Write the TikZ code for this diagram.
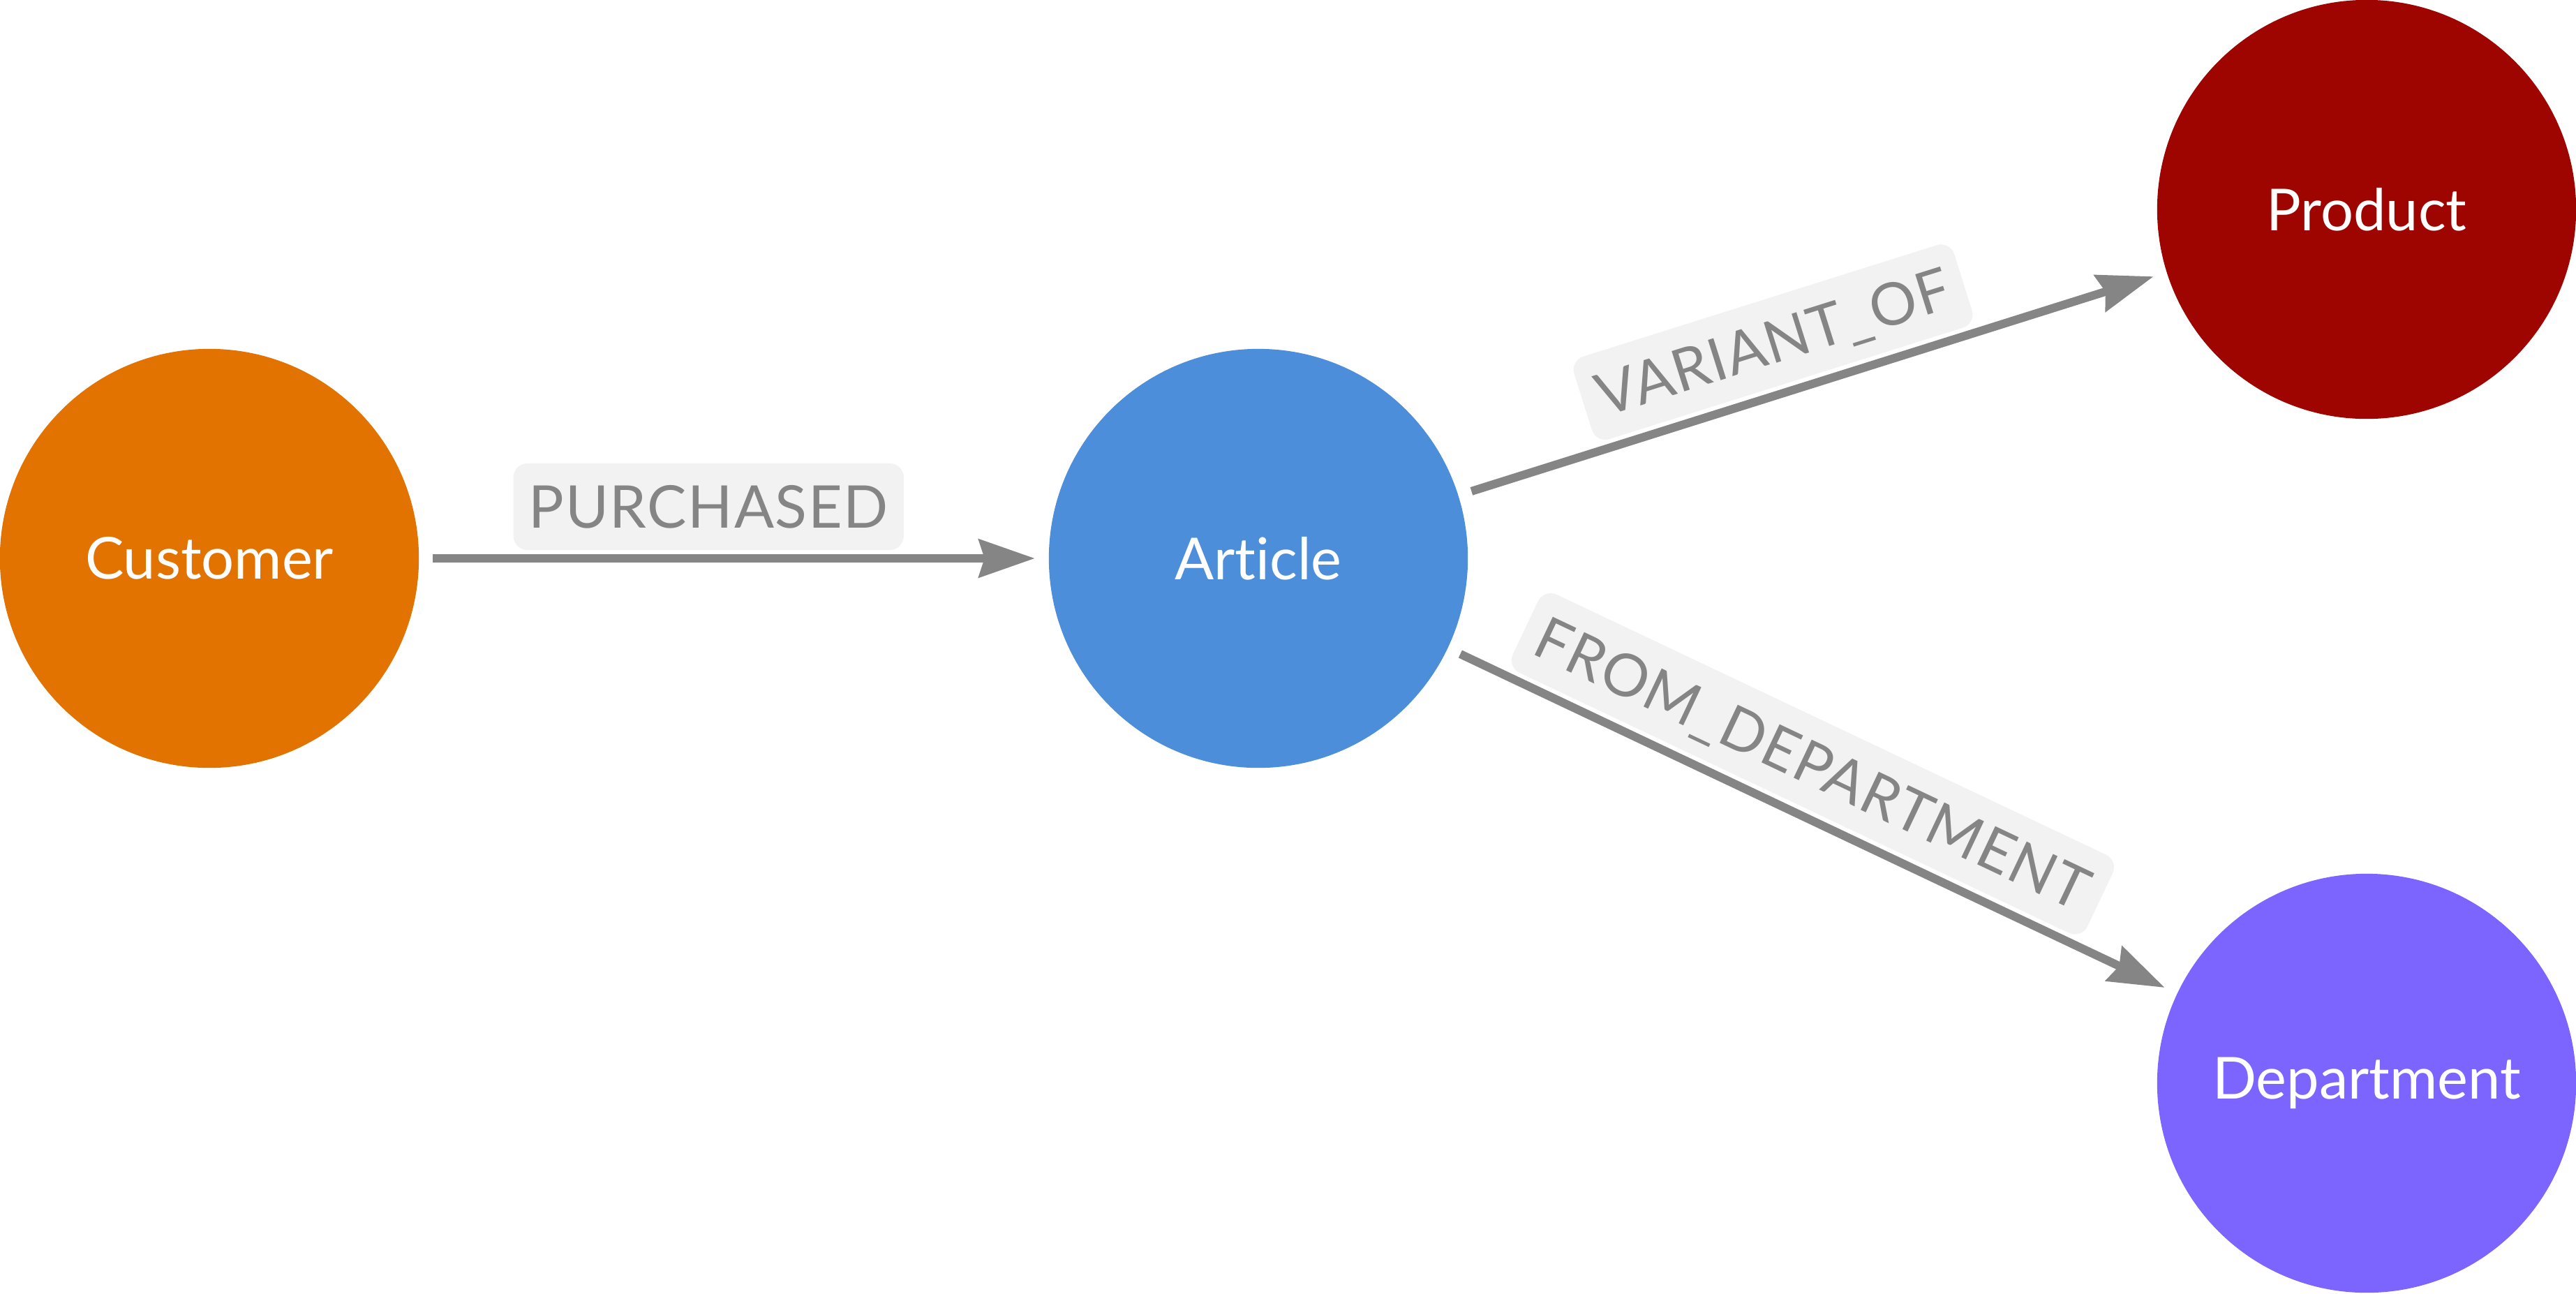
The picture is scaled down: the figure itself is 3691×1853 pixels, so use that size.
\documentclass[tikz,border=0pt]{standalone}
\usepackage{fontspec}
\setmainfont{Lato}[Ligatures=NoCommon]
\usetikzlibrary{arrows.meta}
\definecolor{custc}{HTML}{E27300}
\definecolor{artc}{HTML}{4C8EDA}
\definecolor{prodc}{HTML}{9F0500}
\definecolor{depc}{HTML}{7B64FF}
\definecolor{edgegray}{HTML}{858585}
\definecolor{lblfill}{HTML}{F2F2F2}
\begin{document}
\begin{tikzpicture}[x=0.01cm,y=-0.01cm,
  ent/.style={circle, minimum size=6cm, inner sep=0pt, outer sep=0.2cm, text=white,
    font=\fontsize{23.6}{28}\selectfont},
  rel/.style={draw=edgegray, line width=0.12cm,
    -{Stealth[length=0.8cm,width=0.54cm,inset=0.08cm]}},
  lbl/.style={fill=lblfill, text=edgegray, rounded corners=0.2cm, sloped, anchor=south,
    outer sep=0.12cm, inner xsep=0.22cm, inner ysep=0pt, minimum height=1.24cm,
    text height=0.6cm, text depth=0pt,
    font=\fontsize{24}{28}\selectfont\addfontfeature{LetterSpace=2}}
]
\fill[white] (0,0) rectangle (3691,1853);
\useasboundingbox (0,0) rectangle (3691,1853);
\node[ent, fill=custc] (cust) at (300,800) {Customer};
\node[ent, fill=artc] (art) at (1803,800) {Article};
\node[ent, fill=prodc] (prod) at (3391,300) {Product};
\node[ent, fill=depc] (dep) at (3391,1552) {Department};
\draw[rel] (cust) -- node[lbl, pos=0.458] {PURCHASED} (art);
\draw[rel] (art) -- node[lbl, pos=0.465] {VARIANT\_OF} (prod);
\draw[rel] (art) -- node[lbl, pos=0.469] {FROM\_DEPARTMENT} (dep);
\end{tikzpicture}
\end{document}
